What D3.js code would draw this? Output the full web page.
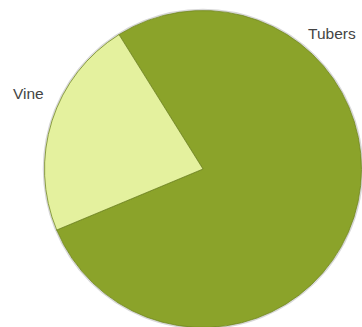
<!DOCTYPE html>
<html>
<head>
<meta charset="utf-8">
<script src="https://cdn.jsdelivr.net/npm/d3@7"></script>
<style>
  body { margin: 0; background: #fff; }
  svg { display: block; }
</style>
</head>
<body>
<div id="viz"></div>
<script>
// chart data
var labels = ["Tubers", "Vine"];
var values = [77.6, 22.4];
var colors = ["#8ba32a", "#e4f19e"];

var width = 362, height = 327;
var cx = 203, cy = 169, radius = 158.5;

var svg = d3.select("#viz")
    .append("svg")
    .attr("width", width)
    .attr("height", height);

var g = svg.append("g")
    .attr("transform", "translate(" + cx + "," + cy + ")");

// pie starts a bit left of 12 o'clock
var start = -32 * Math.PI / 180;
var pie = d3.pie()
    .sort(null)
    .startAngle(start)
    .endAngle(start + 2 * Math.PI);

var arcs = pie(values);
var arc = d3.arc().innerRadius(0).outerRadius(radius);

// soft shadow ring
g.append("circle")
    .attr("r", radius + 1)
    .attr("fill", "none")
    .attr("stroke", "#d8d8d8")
    .attr("stroke-width", 1.5);

g.selectAll("path")
    .data(arcs)
    .enter()
    .append("path")
    .attr("d", arc)
    .attr("fill", function (d, i) { return colors[i] })
    .attr("stroke", "#6f8420")
    .attr("stroke-width", 0.8);

// labels outside the pie
var labelPos = [[105, -135], [-190, -75]];

g.selectAll(".lbl")
    .data(arcs)
    .enter()
    .append("text")
    .attr("class", "lbl")
    .attr("x", function (d, i) { return labelPos[i][0] })
    .attr("y", function (d, i) { return labelPos[i][1] })
    .attr("dy", "0.35em")
    .style("font-family", "Liberation Sans, Arial, sans-serif")
    .style("font-size", "15.5px")
    .style("fill", "#444")
    .text(function (d, i) { return labels[i] });
</script>
</body>
</html>
